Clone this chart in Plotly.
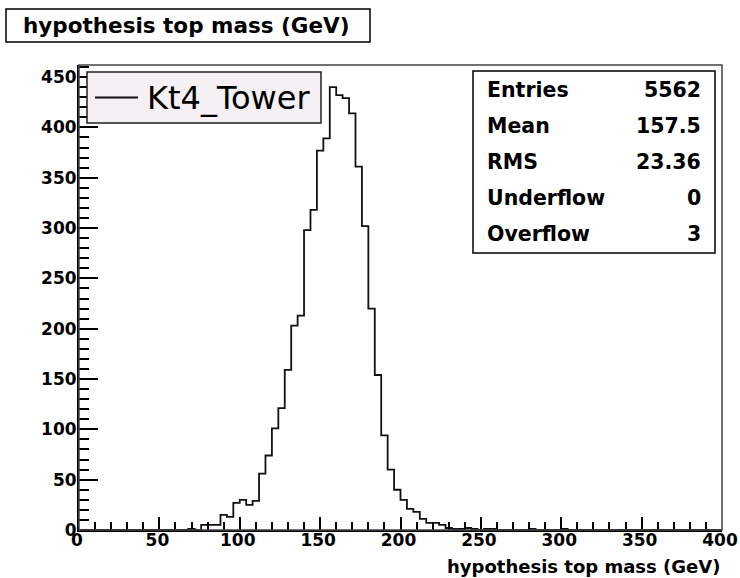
import plotly.graph_objects as go

# ---------------- data ----------------
hist_title = "hypothesis top mass (GeV)"
x_title = "hypothesis top mass (GeV)"
series_name = "Kt4_Tower"
bin_low = 0.0
bin_width = 4.0
counts = [
    0, 0, 0, 0, 0, 0, 0, 0, 0, 0,
    0, 0, 0, 0, 0, 0, 0, 1, 0, 5,
    5, 5, 15, 13, 27, 30, 25, 29, 56, 74,
    101, 121, 159, 203, 213, 298, 318, 377, 389, 440,
    432, 429, 414, 361, 302, 220, 154, 94, 60, 40,
    30, 21, 18, 11, 7, 7, 5, 2, 1, 1,
    2, 1, 0, 1, 1, 0, 0, 0, 0, 0,
    1, 0, 0, 0, 0, 1, 0, 0, 0, 0,
    0, 0, 0, 0, 0, 0, 0, 0, 0, 0,
    0, 0, 0, 0, 0, 0, 0, 0, 0, 0,
]
stat_labels = ["Entries", "Mean", "RMS", "Underflow", "Overflow"]
stat_values = ["5562", "157.5", "23.36", "0", "3"]

# ---------------- layout geometry (page pixels) ----------------
OFF = 0                      # body margin removed by the post script below
PW, PH = 740, 578            # page (window) size
W, H = PW - OFF, PH - OFF    # figure size
L, R, T, B = 79, 722, 65, 530  # plot area in page pixels
FONT = "DejaVu Sans, Verdana, sans-serif"


def px(x):
    return (x - L) / (R - L)


def py(y):
    return (B - y) / (B - T)


edges = [bin_low + bin_width * i for i in range(len(counts) + 1)]
ys = counts + [counts[-1]]

fig = go.Figure()
fig.add_trace(go.Scatter(
    x=edges, y=ys, mode="lines", name=series_name,
    line=dict(shape="hv", color="#111111", width=1.8),
    hoverinfo="skip", showlegend=False,
))

shapes = []
annotations = []

# plot frame (top/right)
shapes.append(dict(type="rect", xref="paper", yref="paper", x0=0, x1=1, y0=0, y1=1,
                   line=dict(color="#444444", width=1.5), layer="above"))

# title box
shapes.append(dict(type="rect", xref="paper", yref="paper",
                   x0=px(6), x1=px(370), y0=py(42), y1=py(9),
                   line=dict(color="black", width=1.5), fillcolor="white"))
annotations.append(dict(xref="paper", yref="paper", x=px(186.5), y=py(25.5),
                        xanchor="center", yanchor="middle", showarrow=False,
                        text=hist_title,
                        font=dict(family=FONT, size=21.5, color="black", weight="bold")))

# legend box (ROOT TLegend style)
shapes.append(dict(type="rect", xref="paper", yref="paper",
                   x0=px(87), x1=px(321), y0=py(123), y1=py(72),
                   line=dict(color="#222222", width=1.5), fillcolor="#f5f0f4", layer="above"))
shapes.append(dict(type="line", xref="paper", yref="paper",
                   x0=px(95), x1=px(138), y0=py(97.5), y1=py(97.5),
                   line=dict(color="#111111", width=1.8), layer="above"))
annotations.append(dict(xref="paper", yref="paper", x=px(145), y=py(97.5),
                        xanchor="left", yanchor="middle", showarrow=False,
                        text=series_name,
                        font=dict(family=FONT, size=32, color="black")))

# stats box
shapes.append(dict(type="rect", xref="paper", yref="paper",
                   x0=px(473), x1=px(715), y0=py(253), y1=py(71),
                   line=dict(color="black", width=1.5), fillcolor="white", layer="above"))
row_y = [90, 125.5, 161.5, 198, 234]
for lab, val, yy in zip(stat_labels, stat_values, row_y):
    annotations.append(dict(xref="paper", yref="paper", x=px(485), y=py(yy),
                            xanchor="left", yanchor="middle", showarrow=False, text=lab,
                            font=dict(family=FONT, size=20.5, color="black", weight="bold")))
    annotations.append(dict(xref="paper", yref="paper", x=px(703), y=py(yy),
                            xanchor="right", yanchor="middle", showarrow=False, text=val,
                            font=dict(family=FONT, size=20.5, color="black", weight="bold")))

# x axis title (right aligned, ROOT style)
annotations.append(dict(xref="paper", yref="paper", x=1.0, y=py(566),
                        xanchor="right", yanchor="middle", showarrow=False, text=x_title,
                        font=dict(family=FONT, size=18, color="black", weight="bold")))

tickfont = dict(family=FONT, size=17, color="black", weight="bold")

fig.update_layout(
    width=W, height=H,
    margin=dict(l=L - OFF, r=PW - R, t=T - OFF, b=PH - B, pad=0, autoexpand=False),
    paper_bgcolor="white", plot_bgcolor="white",
    showlegend=False,
    shapes=shapes,
    annotations=annotations,
    xaxis=dict(range=[0, 400], dtick=50, tick0=0, ticks="inside", ticklen=13,
               tickwidth=1.5, tickcolor="black", showline=True, linewidth=2,
               linecolor="black", showgrid=False, zeroline=False, tickfont=tickfont,
               ticklabelstandoff=-6, ticklabelshift=-2, automargin=False,
               minor=dict(dtick=10, ticks="inside", ticklen=8, tickwidth=1.5,
                          tickcolor="black", showgrid=False)),
    yaxis=dict(range=[0, 462], dtick=50, tick0=0, ticks="inside", ticklen=19,
               tickwidth=1.5, tickcolor="black", showline=True, linewidth=2,
               linecolor="black", showgrid=False, zeroline=False, tickfont=tickfont,
               ticklabelstandoff=-3, automargin=False,
               minor=dict(dtick=10, ticks="inside", ticklen=10, tickwidth=1.5,
                          tickcolor="black", showgrid=False)),
)

fig.write_html(
    "out.html",
    config={"displayModeBar": False},
    post_script="document.body.style.margin='0';document.documentElement.style.overflow='hidden';",
)
